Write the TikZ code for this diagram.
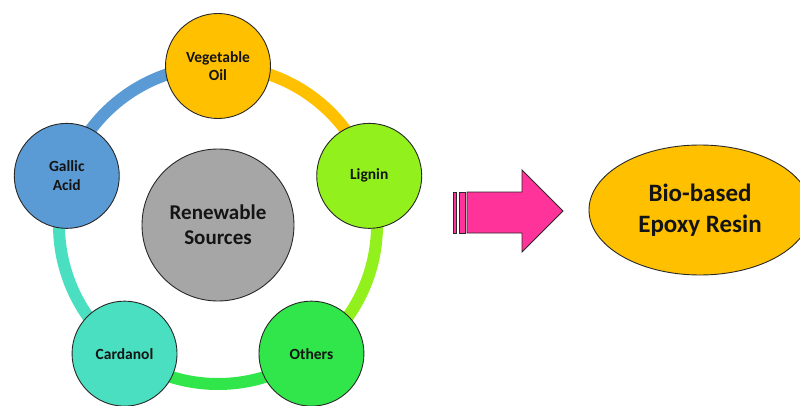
\documentclass[tikz,border=0pt]{standalone}
\usepackage{fontspec}
\setmainfont{Carlito}
\usetikzlibrary{shapes.geometric,backgrounds}

\definecolor{veggold}{RGB}{255,192,0}
\definecolor{lignin}{RGB}{146,240,28}
\definecolor{others}{RGB}{48,230,74}
\definecolor{cardanol}{RGB}{74,223,192}
\definecolor{gallic}{RGB}{91,155,213}
\definecolor{srcgray}{RGB}{166,166,166}
\definecolor{pinkarrow}{RGB}{255,51,153}
\definecolor{edge}{RGB}{40,40,40}
\definecolor{ink}{RGB}{20,20,20}

\tikzset{
  x=1pt, y=1pt,
  source/.style={circle, draw=edge, line width=0.9pt, minimum size=105pt,
    inner sep=0pt, align=center, text=ink, font=\bfseries\fontsize{15.5}{18.5}\selectfont},
  hub/.style={circle, draw=edge, line width=0.9pt, fill=srcgray, minimum size=152pt,
    inner sep=0pt, align=center, text=ink, font=\bfseries\fontsize{21}{25}\selectfont},
  ringarc/.style={line width=12pt},
  product/.style={ellipse, draw=edge, line width=0.9pt, fill=veggold,
    minimum width=222pt, minimum height=130pt, inner sep=0pt, align=center,
    text=ink, font=\bfseries\fontsize{25}{30.5}\selectfont},
}

\begin{document}
\begin{tikzpicture}
\useasboundingbox (0,0) rectangle (800,405);
\clip (0,0) rectangle (800,405);

% hub and the five sources placed on a ring of radius 159
\coordinate (c) at (218,180);
\node[hub] (hub) at (c) {Renewable\\Sources};
\node[source, fill=veggold]  (veg) at ([shift={(90:159)}]c)  {Vegetable\\Oil};
\node[source, fill=lignin]   (lig) at ([shift={(18:159)}]c)  {Lignin};
\node[source, fill=others]   (oth) at ([shift={(-54:159)}]c) {Others};
\node[source, fill=cardanol] (car) at ([shift={(-126:159)}]c) {Cardanol};
\node[source, fill=gallic]   (gal) at ([shift={(162:159)}]c) {Gallic\\Acid};

% coloured ring segments behind the source circles
\begin{scope}[on background layer]
  \draw[ringarc, gallic]   (gal.center) arc[start angle=162, end angle=90,   radius=159];
  \draw[ringarc, veggold]  (veg.center) arc[start angle=90,  end angle=18,   radius=159];
  \draw[ringarc, lignin]   (lig.center) arc[start angle=18,  end angle=-54,  radius=159];
  \draw[ringarc, others]   (oth.center) arc[start angle=-54, end angle=-126, radius=159];
  \draw[ringarc, cardanol] (car.center) arc[start angle=-126, end angle=-198, radius=159];
\end{scope}

% striped block arrow
\draw[edge, fill=pinkarrow, line width=0.8pt, line join=miter]
  (467,213) -- (522,213) -- (522,235) -- (563,194) -- (522,153) -- (522,172) -- (467,172) -- cycle;
\draw[edge, fill=pinkarrow, line width=0.8pt] (459,213) rectangle (465,172);
\draw[edge, fill=pinkarrow, line width=0.8pt] (453.5,213) rectangle (456.5,172);

% result
\node[product] (resin) at (700,195) {Bio-based\\Epoxy Resin};
\end{tikzpicture}
\end{document}
